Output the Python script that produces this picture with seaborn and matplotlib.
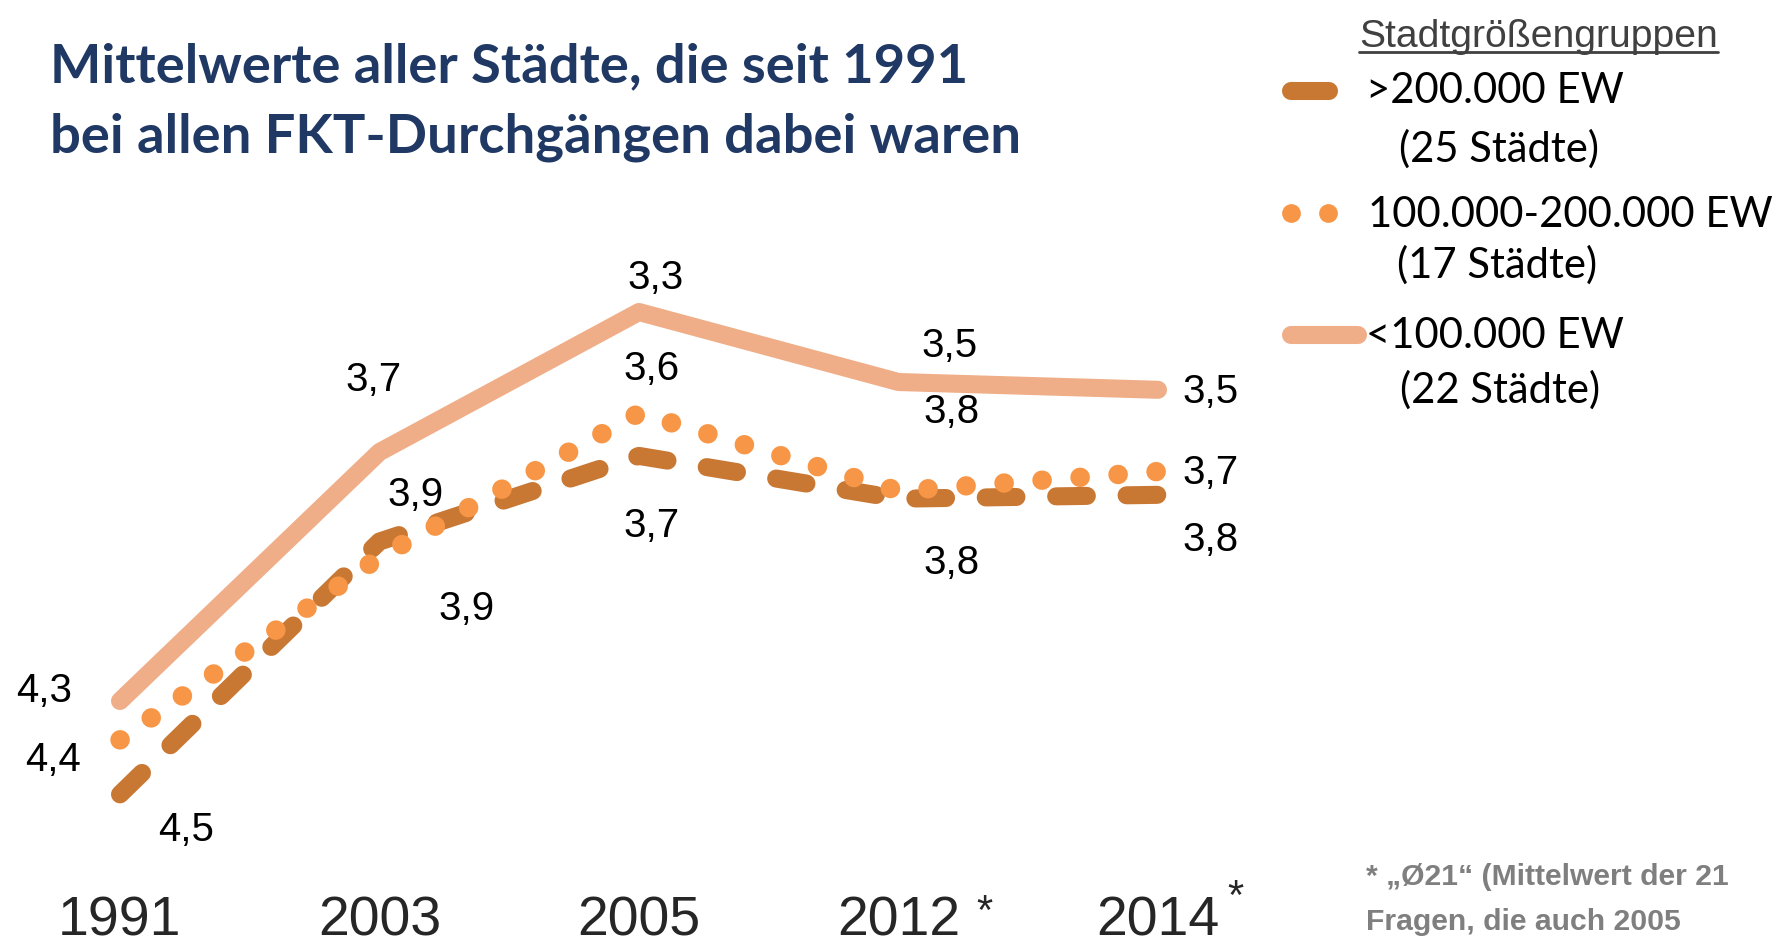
import matplotlib
matplotlib.use("Agg")
import matplotlib.pyplot as plt
import pandas as pd
import seaborn as sns
from matplotlib.lines import Line2D

# Data (lower value = better, so the y axis is inverted)
years = ["1991", "2003", "2005", "2012", "2014"]
starred_years = ["2012", "2014"]
groups = [">200.000 EW", "100.000-200.000 EW", "<100.000 EW"]
group_counts = ["(25 Städte)", "(17 Städte)", "(22 Städte)"]
values_big = [4.54, 3.89, 3.67, 3.78, 3.77]
values_mid = [4.40, 3.93, 3.56, 3.76, 3.71]
values_small = [4.30, 3.66, 3.30, 3.48, 3.50]

title_lines = ["Mittelwerte aller Städte, die seit 1991",
               "bei allen FKT-Durchgängen dabei waren"]
legend_title = "Stadtgrößengruppen"
footnote_lines = ["* \u201eØ21\u201c (Mittelwert der 21", "Fragen, die auch 2005"]

df = pd.DataFrame({
    "year": years * 3,
    "group": [g for g in groups for _ in years],
    "value": values_big + values_mid + values_small,
})
df["pos"] = df["year"].map({y: i for i, y in enumerate(years)})

W, H = 1786, 944
sns.set_style("white")
plt.rcParams["font.family"] = ["Liberation Sans", "DejaVu Sans"]

fig = plt.figure(figsize=(W / 100, H / 100), dpi=100)
ax_bottom = 880
ax = fig.add_axes([0, (H - ax_bottom) / H, 1, ax_bottom / H])

col_big = "#C97834"
col_mid = "#F79646"
col_small = "#EFAE87"
styles = {
    groups[0]: dict(color=col_big, linewidth=13, linestyle=(0, (1.7, 2.2)),
                    dash_capstyle="round", solid_capstyle="round"),
    groups[1]: dict(color=col_mid, linewidth=14, linestyle=(0, (0.01, 1.95)),
                    dash_capstyle="round", solid_capstyle="round"),
    groups[2]: dict(color=col_small, linewidth=13, linestyle="-",
                    solid_capstyle="round", solid_joinstyle="round"),
}

for g in [groups[2], groups[0], groups[1]]:
    sub = df[df["group"] == g]
    sns.lineplot(data=sub, x="pos", y="value", sort=False, estimator=None,
                 ax=ax, **styles[g])

# value labels, offsets in pixels from each point
label_offsets = {
    groups[0]: [(66, -36), (87, -67), (13, -70), (53, -64), (53, -45)],
    groups[1]: [(-67, -20), (36, 62), (13, 44), (53, 79), (53, -2)],
    groups[2]: [(-76, 10), (-6, 72), (17, 34), (51, 36), (53, -2)],
}
for g in groups:
    sub = df[df["group"] == g]
    for (p, v), off in zip(zip(sub["pos"], sub["value"]), label_offsets[g]):
        ax.annotate(f"{v:.1f}".replace(".", ","), xy=(p, v), xytext=off,
                    textcoords="offset pixels", ha="center", va="center",
                    fontsize=29, color="black")

# axis scaling: category spacing ~259.5 px, first at 120 px; 389 px per unit
step = 259.5
ax.set_xlim(-120 / step, (W - 120) / step)
ax.set_ylim(3.3 + (ax_bottom - 312) / 389, 3.3 - 312 / 389)
ax.set_xticks(range(len(years)), years)
ax.set_yticks([])
for s in ax.spines.values():
    s.set_visible(False)
ax.tick_params(axis="x", length=0, pad=11, labelsize=40)
for t in ax.get_xticklabels():
    t.set_family(["Liberation Sans Narrow", "Liberation Sans"])
ax.set_xlabel("")
ax.set_ylabel("")

star_offsets = {"2012": (86, -33), "2014": (77, -18)}
for y in starred_years:
    ax.annotate("*", xy=(years.index(y), 0), xycoords=ax.get_xaxis_transform(),
                xytext=star_offsets[y], textcoords="offset pixels",
                ha="center", va="center", fontsize=30, annotation_clip=False)

renderer = fig.canvas.get_renderer()


def fx(x):
    return x / W


def fy(y):
    return 1 - y / H


def fit_width(texts, width_px):
    w = texts[0].get_window_extent(renderer).width
    size = texts[0].get_fontsize() * width_px / w
    for t in texts:
        t.set_fontsize(size)


# title
tt = [fig.text(fx(50), fy(b), line, fontsize=40, fontweight="bold",
               family=["Lato", "DejaVu Sans"], color="#1F3864", va="baseline")
      for line, b in zip(title_lines, [82, 152])]
fit_width(tt, 918)

# legend
lt = fig.text(fx(1359), fy(47), legend_title, fontsize=30, color="#404040",
              family=["Liberation Sans Narrow", "Liberation Sans"], va="baseline")
fit_width([lt], 359)
bb = lt.get_window_extent(renderer)
fig.add_artist(Line2D([bb.x0 / W, bb.x1 / W], [fy(52), fy(52)],
                      transform=fig.transFigure, color="#404040", linewidth=2))

entry_rows = [(103, 162), (227, 278), (348, 403)]
entry_left = [1366, 1368, 1366]
count_left = [1399, 1397, 1400]
ents = []
for g, c, (b1, b2), l1, l2 in zip(groups, group_counts, entry_rows, entry_left, count_left):
    ents.append(fig.text(fx(l1), fy(b1), g, fontsize=28, family=["Lato", "DejaVu Sans"],
                         color="black", va="baseline"))
    ents.append(fig.text(fx(l2), fy(b2), c, fontsize=28, family=["Lato", "DejaVu Sans"],
                         color="black", va="baseline"))
fit_width(ents, 257)

fig.add_artist(Line2D([fx(1291), fx(1329)], [fy(91), fy(91)], transform=fig.transFigure,
                      color=col_big, linewidth=13, solid_capstyle="round"))
fig.add_artist(Line2D([fx(1291), fx(1328)], [fy(213), fy(213)], transform=fig.transFigure,
                      color=col_mid, linestyle="none", marker="o", markersize=13.5,
                      markeredgewidth=0))
fig.add_artist(Line2D([fx(1291), fx(1358)], [fy(335), fy(335)], transform=fig.transFigure,
                      color=col_small, linewidth=13, solid_capstyle="round"))

# footnote
ft = [fig.text(fx(1366), fy(b), line, fontsize=20, fontweight="bold", color="#7F7F7F",
               family=["Liberation Sans Narrow", "Liberation Sans"], va="baseline")
      for line, b in zip(footnote_lines, [885, 930])]
fit_width(ft[1:] + ft[:1], 315)

fig.savefig("out.png", dpi=100)
